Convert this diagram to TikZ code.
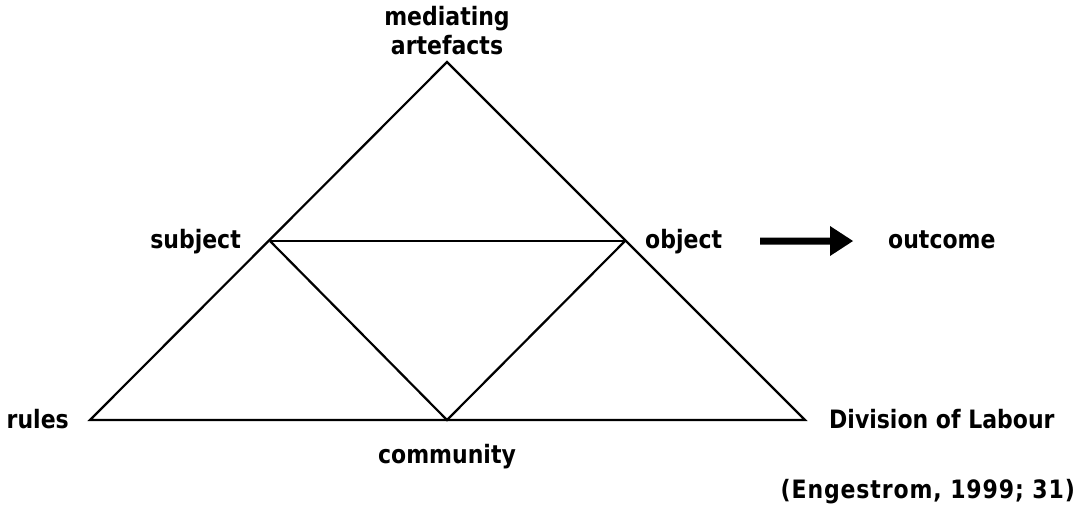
\documentclass[tikz,border=0pt]{standalone}
\usepackage{graphicx}
\usepackage{fontspec}
\setmainfont{DejaVu Sans}
% bold label text, slightly stretched upright
\newcommand\tallbold[1]{\scalebox{1}[1.15]{#1}}
\begin{document}
\begin{tikzpicture}[x=1pt,y=-1pt,
  lbl/.style={font=\bfseries\fontsize{22}{28}\selectfont, inner sep=0pt},
  edge/.style={line width=2.2pt, line join=miter}]
\useasboundingbox (0,0) rectangle (1081,515);
% corners of the activity triangle
\coordinate (top) at (447,62);
\coordinate (subj) at (270,241);
\coordinate (obj) at (625,241);
\coordinate (bl) at (90,420);
\coordinate (bm) at (447,420);
\coordinate (br) at (805,420);
% triangle and its inner lines
\draw[edge] (top) -- (bl) -- (br) -- cycle;
\draw[edge] (subj) -- (obj);
\draw[edge] (subj) -- (bm) -- (obj);
% labels
\node[lbl, anchor=base] (med) at (447,54)
  {\tallbold{\begin{tabular}[b]{@{}c@{}}mediating\\[-3pt]artefacts\end{tabular}}};
\node[lbl, anchor=base east] (lsubj) at (241,248) {\tallbold{subject}};
\node[lbl, anchor=base west] (lobj) at (645,248) {\tallbold{object}};
\node[lbl, anchor=base west] (lout) at (888,248) {\tallbold{outcome}};
\node[lbl, anchor=base east] (lrules) at (69,428) {\tallbold{rules}};
\node[lbl, anchor=base] (lcom) at (447,463) {\tallbold{community}};
\node[lbl, anchor=base west] (ldiv) at (829,428) {\tallbold{Division of Labour}};
\node[lbl, anchor=base east] (lref) at (1075,498)
  {\tallbold{\addfontfeature{LetterSpace=4}(Engestrom,\ 1999;\ 31)}};
% thick arrow from object to outcome
\fill (760,237.5) -- (830,237.5) -- (830,226) -- (853,241) -- (830,256) -- (830,244.5) -- (760,244.5) -- cycle;
\end{tikzpicture}
\end{document}
